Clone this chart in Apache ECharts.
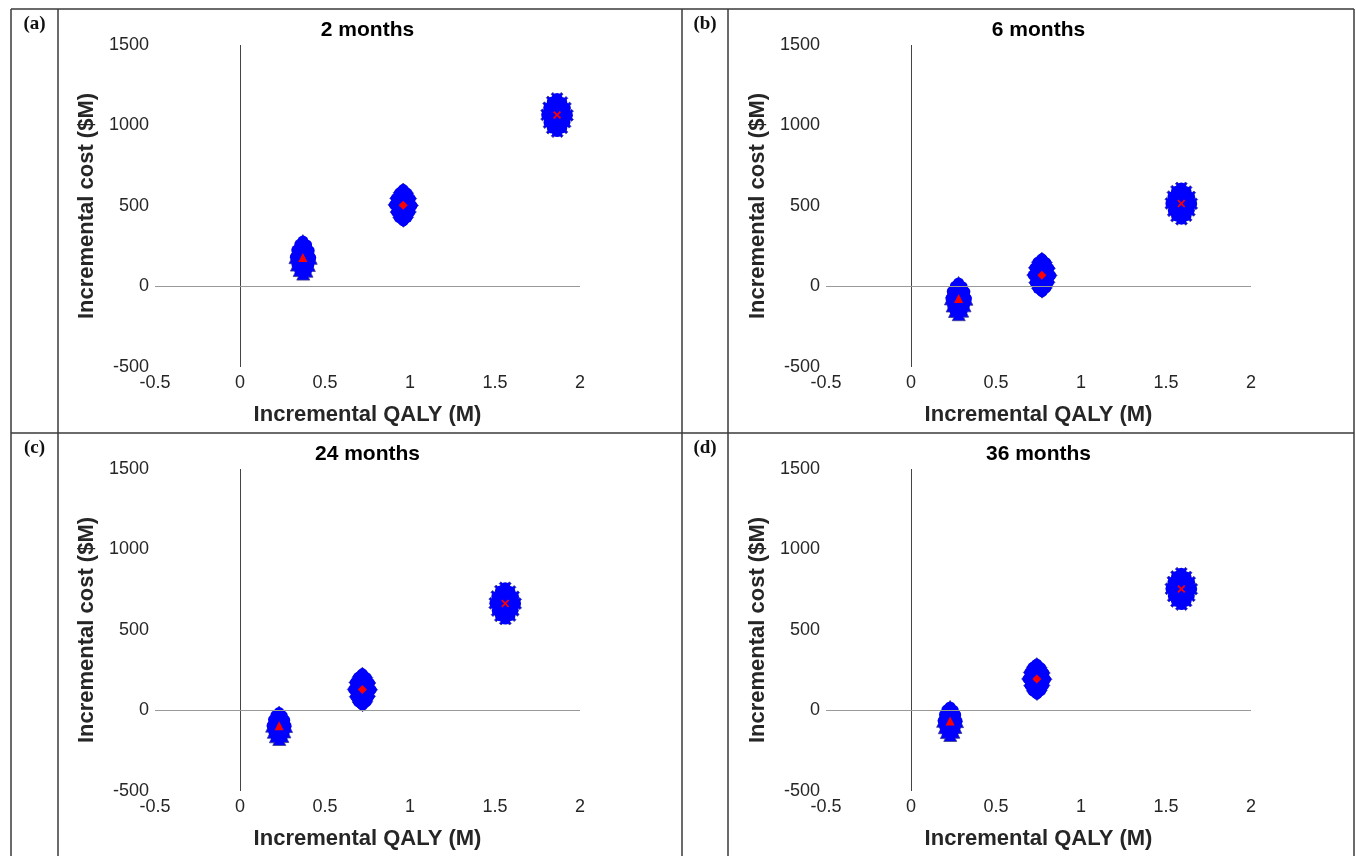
<!DOCTYPE html>
<html>
<head>
<meta charset="utf-8">
<script src="https://cdn.jsdelivr.net/npm/echarts@6/dist/echarts.min.js"></script>
<style>html,body{margin:0;padding:0;background:#fff}#c{width:1356px;height:856px}</style>
</head>
<body>
<div id="c"></div>
<script>
// ---- data ----
const panelTitles = ['2 months', '6 months', '24 months', '36 months'];
const panelLetters = ['(a)', '(b)', '(c)', '(d)'];
const xName = 'Incremental QALY (M)';
const yName = 'Incremental cost ($M)';
const xMin = -0.5, xMax = 2, xStep = 0.5;
const yMin = -500, yMax = 1500, yStep = 500;

// PSA clouds, three strategies per panel
const a_tri = [[0.37,282],[0.352,262],[0.392,258],[0.334,226],[0.372,232],[0.407,222],[0.326,182],[0.354,192],[0.386,170],[0.416,178],[0.335,136],[0.369,128],[0.405,134],[0.351,102],[0.391,98],[0.372,80]];
const a_dia = [[0.96,602],[0.939,582],[0.983,579],[0.919,548],[0.962,554],[1.001,546],[0.909,507],[0.943,516],[0.978,494],[1.011,503],[0.921,462],[0.958,456],[0.999,463],[0.937,428],[0.983,430],[0.961,408]];
const a_x = [[1.865,1168],[1.837,1146],[1.893,1143],[1.816,1110],[1.866,1116],[1.914,1108],[1.804,1066],[1.844,1076],[1.887,1054],[1.926,1063],[1.818,1019],[1.864,1013],[1.912,1021],[1.837,984],[1.893,986],[1.866,962]];
const b_tri = [[0.28,22],[0.261,2],[0.301,-1],[0.243,-31],[0.281,-26],[0.317,-33],[0.235,-74],[0.264,-64],[0.297,-86],[0.326,-76],[0.245,-118],[0.279,-124],[0.315,-117],[0.259,-152],[0.301,-150],[0.281,-172]];
const b_dia = [[0.77,172],[0.747,151],[0.793,148],[0.729,116],[0.771,121],[0.811,113],[0.719,71],[0.753,81],[0.788,59],[0.821,69],[0.731,24],[0.769,19],[0.809,26],[0.747,-11],[0.793,-9],[0.771,-32]];
const b_x = [[1.59,612],[1.562,592],[1.618,589],[1.541,558],[1.591,564],[1.639,556],[1.529,516],[1.569,526],[1.612,504],[1.651,514],[1.543,471],[1.589,466],[1.637,473],[1.562,438],[1.618,440],[1.591,418]];
const c_tri = [[0.23,-13],[0.211,-31],[0.249,-33],[0.197,-58],[0.231,-54],[0.263,-60],[0.189,-94],[0.216,-86],[0.245,-104],[0.271,-96],[0.199,-132],[0.229,-136],[0.261,-130],[0.211,-160],[0.249,-158],[0.231,-177]];
const c_dia = [[0.72,228],[0.697,207],[0.743,204],[0.679,174],[0.721,179],[0.761,171],[0.669,131],[0.703,141],[0.738,119],[0.771,129],[0.681,86],[0.719,81],[0.759,88],[0.697,53],[0.743,55],[0.721,33]];
const c_x = [[1.56,762],[1.532,742],[1.588,739],[1.511,708],[1.561,714],[1.609,706],[1.499,666],[1.539,676],[1.582,654],[1.621,664],[1.513,621],[1.559,616],[1.607,623],[1.532,588],[1.588,590],[1.561,568]];
const d_tri = [[0.23,22],[0.211,4],[0.249,1],[0.197,-26],[0.231,-21],[0.263,-28],[0.189,-64],[0.216,-55],[0.245,-75],[0.271,-66],[0.199,-104],[0.229,-109],[0.261,-102],[0.211,-134],[0.249,-132],[0.231,-152]];
const d_dia = [[0.74,288],[0.717,268],[0.763,265],[0.699,236],[0.741,241],[0.781,233],[0.689,196],[0.723,205],[0.758,185],[0.791,194],[0.701,154],[0.739,149],[0.779,156],[0.717,122],[0.763,124],[0.741,103]];
const d_x = [[1.59,852],[1.562,832],[1.618,829],[1.541,798],[1.591,804],[1.639,796],[1.529,756],[1.569,766],[1.612,744],[1.651,754],[1.543,711],[1.589,706],[1.637,713],[1.562,678],[1.618,680],[1.591,658]];

// means (red markers)
const meanTri = [[0.37,180],[0.28,-75],[0.23,-95],[0.23,-65]];
const meanDia = [[0.96,505],[0.77,70],[0.72,130],[0.74,195]];
const meanX = [[1.865,1065],[1.59,515],[1.56,665],[1.59,755]];

const clouds = [[a_tri,a_dia,a_x],[b_tri,b_dia,b_x],[c_tri,c_dia,c_x],[d_tri,d_dia,d_x]];

// ---- chart ----
const CROSS = 'path://M0,1.5 L1.5,0 L5,3.5 L8.5,0 L10,1.5 L6.5,5 L10,8.5 L8.5,10 L5,6.5 L1.5,10 L0,8.5 L3.5,5 Z';
const symbols = ['triangle', 'diamond', CROSS];
const means = [meanTri, meanDia, meanX];
const FONT = '"Liberation Sans", Arial, sans-serif';

const gridPos = [
  {left:155, top:45}, {left:826, top:45},
  {left:155, top:469}, {left:826, top:469}
];
const grids = gridPos.map(g => ({left:g.left, top:g.top, width:425, height:322, containLabel:false}));

const xAxes = [], yAxes = [], series = [], graphics = [];
for (let i = 0; i < 4; i++) {
  xAxes.push({
    type:'value', gridIndex:i, min:xMin, max:xMax, interval:xStep,
    axisLine:{show:false}, axisTick:{show:false}, splitLine:{show:false},
    axisLabel:{color:'#262626', fontSize:18, fontFamily:FONT, margin:7, formatter:v => String(v)},
    name:xName, nameLocation:'middle', nameGap:37,
    nameTextStyle:{color:'#262626', fontSize:22, fontWeight:'bold', fontFamily:FONT}
  });
  yAxes.push({
    type:'value', gridIndex:i, min:yMin, max:yMax, interval:yStep,
    axisLine:{show:false}, axisTick:{show:false}, splitLine:{show:false},
    axisLabel:{color:'#262626', fontSize:18, fontFamily:FONT, margin:6, formatter:v => String(v)},
    name:yName, nameLocation:'middle', nameGap:57,
    nameTextStyle:{color:'#262626', fontSize:22, fontWeight:'bold', fontFamily:FONT}
  });
  // zero lines
  series.push({
    type:'scatter', xAxisIndex:i, yAxisIndex:i, data:[], z:1, silent:true,
    markLine:{
      symbol:'none', silent:true, animation:false, label:{show:false},
      data:[
        {xAxis:0, lineStyle:{color:'#444', width:1, type:'solid'}},
        {yAxis:0, lineStyle:{color:'#999', width:1, type:'solid'}}
      ]
    }
  });
  for (let k = 0; k < 3; k++) {
    // outlined markers (fringe)
    series.push({
      type:'scatter', xAxisIndex:i, yAxisIndex:i, z:2, animation:false,
      symbol:symbols[k], symbolSize:k === 2 ? 12 : 13,
      itemStyle:{color:'#0000ff', borderColor:'#3c3c8c', borderWidth:0.8, opacity:1},
      data:clouds[i][k]
    });
    // solid fill of the dense core
    series.push({
      type:'scatter', xAxisIndex:i, yAxisIndex:i, z:2, zlevel:0, animation:false,
      symbol:'circle', symbolSize:11,
      itemStyle:{color:'#0000ff', borderWidth:0, opacity:1},
      data:clouds[i][k]
    });
  }
  for (let k = 0; k < 3; k++) {
    series.push({
      type:'scatter', xAxisIndex:i, yAxisIndex:i, z:3, animation:false,
      symbol:symbols[k], symbolSize:k === 2 ? 8 : 9,
      itemStyle:{color:'#ff0000', opacity:1},
      data:[means[k][i]]
    });
  }
  // panel title
  graphics.push({
    type:'text', x:gridPos[i].left + 212.5, y:gridPos[i].top - 15,
    style:{text:panelTitles[i], fill:'#000', font:'bold 21px ' + FONT, textAlign:'center', textVerticalAlign:'middle'}
  });
  // panel letter
  graphics.push({
    type:'text', x:(i % 2 === 0 ? 34.5 : 705), y:(i < 2 ? 24 : 448),
    style:{text:panelLetters[i], fill:'#111', font:'bold 19px "Liberation Serif", "Times New Roman", serif', textAlign:'center', textVerticalAlign:'middle'}
  });
}

// table frame lines
const lineStyle = {stroke:'#3a3a3a', lineWidth:1.5};
[[11,9,1354,9],[11,433,1354,433],[11,9,11,900],[58,9,58,900],[682,9,682,900],[728,9,728,900],[1354,9,1354,900]].forEach(s => {
  graphics.push({type:'line', shape:{x1:s[0], y1:s[1], x2:s[2], y2:s[3]}, style:lineStyle, z:10});
});

const chart = echarts.init(document.getElementById('c'), null, {renderer:'canvas'});
chart.setOption({
  animation:false,
  backgroundColor:'#fff',
  grid:grids, xAxis:xAxes, yAxis:yAxes, series:series, graphic:graphics
});
</script>
</body>
</html>
